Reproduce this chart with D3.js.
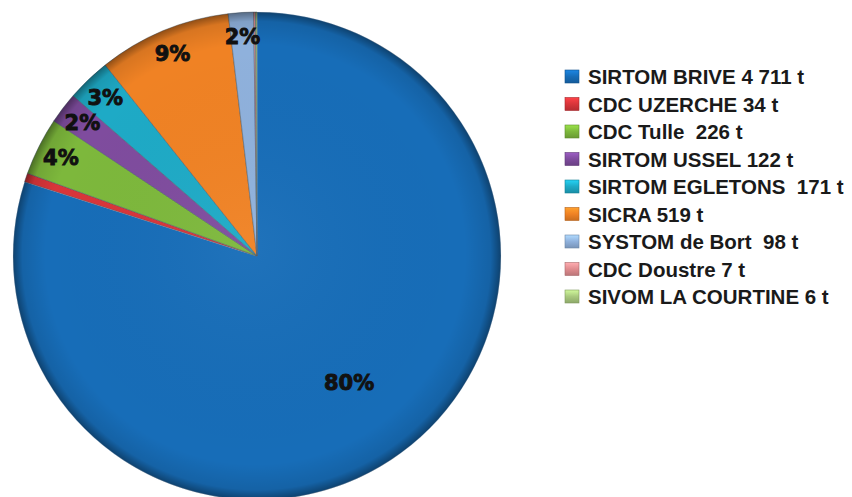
<!DOCTYPE html>
<html>
<head>
<meta charset="utf-8">
<script src="https://cdn.jsdelivr.net/npm/d3@7"></script>
<style>
  body { margin: 0; background: #fff; }
  svg { display: block; }
  .pct { font-family: "DejaVu Sans", sans-serif; font-weight: bold; font-size: 21px; fill: #111; stroke: #111; stroke-width: 0.9px; }
  .leg { font-family: "Liberation Sans", Arial, sans-serif; font-weight: bold; font-size: 20.5px; fill: #1a1a1a; white-space: pre; }
</style>
</head>
<body>
<svg id="svg" width="852" height="497"></svg>
<script>
    var names = ['SIRTOM BRIVE', 'CDC UZERCHE', 'CDC Tulle', 'SIRTOM USSEL', 'SIRTOM EGLETONS',
                 'SICRA', 'SYSTOM de Bort', 'CDC Doustre', 'SIVOM LA COURTINE'];
    var tonnes = [4711, 34, 226, 122, 171, 519, 98, 7, 6];
    // texte de la légende tel qu'il apparaît (doubles espaces compris)
    var legendText = ['SIRTOM BRIVE 4 711 t', 'CDC UZERCHE 34 t', 'CDC Tulle  226 t', 'SIRTOM USSEL 122 t',
                      'SIRTOM EGLETONS  171 t', 'SICRA 519 t', 'SYSTOM de Bort  98 t', 'CDC Doustre 7 t',
                      'SIVOM LA COURTINE 6 t'];
    var colors = ['#176db8', '#d9353a', '#7db83c', '#7f4c9e', '#1eaac6', '#f08224', '#8fb1dc', '#e08c8f', '#a9c97e'];

    var svg = d3.select("#svg"),
        cx = 257, cy = 256, R = 244;
    var defs = svg.append("defs");

    // dégradé radial pour l'effet de relief (ombre sur le bord bas-droit)
    var rg = defs.append("radialGradient").attr("id", "rim")
        .attr("cx", cx).attr("cy", cy).attr("r", R)
        .attr("fx", cx - 12).attr("fy", cy - 12)
        .attr("gradientUnits", "userSpaceOnUse");
    rg.append("stop").attr("offset", "0%").attr("stop-color", "#fff").attr("stop-opacity", 0.04);
    rg.append("stop").attr("offset", "86%").attr("stop-color", "#000").attr("stop-opacity", 0);
    rg.append("stop").attr("offset", "96%").attr("stop-color", "#000").attr("stop-opacity", 0.1);
    rg.append("stop").attr("offset", "100%").attr("stop-color", "#000").attr("stop-opacity", 0.4);

    colors.forEach(function (c, i) {
        var lg = defs.append("linearGradient").attr("id", "m" + i)
            .attr("x1", 0).attr("y1", 0).attr("x2", 0).attr("y2", 1);
        lg.append("stop").attr("offset", "0%").attr("stop-color", d3.color(c).brighter(0.6));
        lg.append("stop").attr("offset", "50%").attr("stop-color", c);
        lg.append("stop").attr("offset", "100%").attr("stop-color", d3.color(c).darker(0.5));
    });

    var g = svg.append("g").attr("transform", "translate(" + cx + "," + cy + ")");
    var total = d3.sum(tonnes);
    var pie = d3.pie().sort(null).value(function (d) { return d; });
    var arcs = pie(tonnes);
    var arc = d3.arc().innerRadius(0).outerRadius(R);

    g.selectAll(".slice")
        .data(arcs)
        .enter().append("path")
        .attr("class", "slice")
        .attr("d", arc)
        .attr("fill", function (d, i) { return colors[i]; })
        .attr("stroke", function (d, i) { return i == 0 ? "#e8eef6" : "#4a5a6a"; })
        .attr("stroke-opacity", 0.6)
        .attr("stroke-width", 0.8);

    svg.append("circle").attr("cx", cx).attr("cy", cy).attr("r", R).attr("fill", "url(#rim)");

    // étiquettes de pourcentage (masquées sous 1 %)
    g.selectAll(".pct")
        .data(arcs.filter(function (d) { return d.value / total >= 0.01; }))
        .enter().append("text")
        .attr("class", "pct")
        .attr("text-anchor", "middle")
        .attr("dy", ".36em")
        .attr("transform", function (d) {
            var share = d.value / total;
            var r = share > 0.5 ? R * 0.64 : R * 0.9;
            var c = d3.arc().innerRadius(r).outerRadius(r).centroid(d);
            return "translate(" + c + ")";
        })
        .text(function (d) { return Math.round(d.value / total * 100) + "%"; });

    // légende
    var y0 = 77, step = 27.5;
    var leg = svg.selectAll(".legrow")
        .data(names)
        .enter().append("g")
        .attr("class", "legrow")
        .attr("transform", function (d, i) { return "translate(565," + (y0 + i * step) + ")"; });
    leg.append("rect")
        .attr("x", 0).attr("y", -7).attr("width", 14).attr("height", 13)
        .attr("fill", function (d, i) { return "url(#m" + i + ")"; })
        .attr("stroke", function (d, i) { return d3.color(colors[i]).darker(0.8); })
        .attr("stroke-width", 0.6);
    leg.append("text")
        .attr("class", "leg")
        .attr("x", 23).attr("dy", ".36em")
        .text(function (d, i) { return legendText[i]; });
</script>
</body>
</html>
